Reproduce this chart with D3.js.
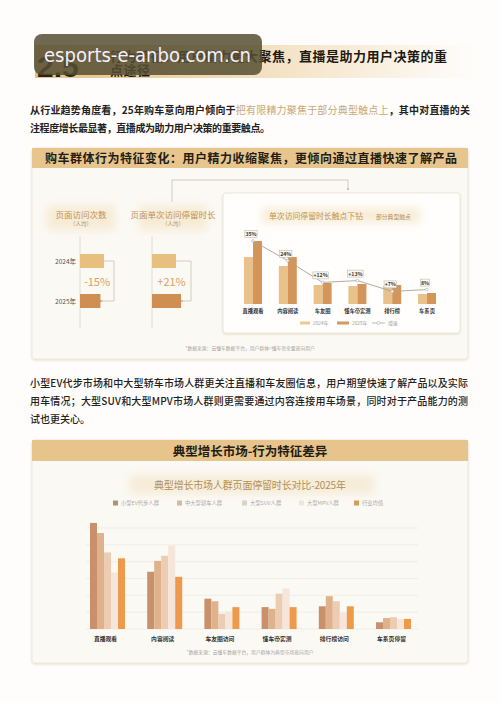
<!DOCTYPE html>
<html><head><meta charset="utf-8">
<script src="https://cdn.jsdelivr.net/npm/d3@7"></script>
<style>
body{margin:0;background:#fefdfb}
svg{display:block;font-family:"Noto Sans CJK SC","Noto Sans",sans-serif}
</style></head>
<body><svg id="c" width="500" height="703"></svg>
<script>
// ---------- data ----------
const yearLabels = ["2024年", "2025年"];
const visitCount = [1.00, 0.85];          // 页面访问次数 (人均), index
const visitDuration = [1.00, 1.21];       // 页面单次访问停留时长 (人均), index
const leftChangeLabels = ["-15%", "+21%"];

const touchCats = ["直播观看", "内容阅读", "车友圈", "懂车帝实测", "排行榜", "车系页"];
const touch2024 = [47, 38, 19, 18, 18, 10];
const touch2025 = [63, 47, 21, 20, 19, 11];
const touchGrowth = [35, 24, 12, 13, 7, 8];
const touchGrowthLabels = ["35%", "24%", "+12%", "+13%", "+7%", "8%"];

const marketCats = ["直播观看", "内容阅读", "车友圈访问", "懂车帝实测", "排行榜访问", "车系页停留"];
const marketSeries = ["小型EV代步人群", "中大型轿车人群", "大型SUV人群", "大型MPV人群", "行业均值"];
const evValues    = [126, 68, 36, 26, 27, 8];
const sedanValues = [114, 81, 33, 24, 39, 13];
const suvValues   = [91, 87, 18, 42, 33, 14];
const mpvValues   = [67, 99, 21, 48, 19, 12];
const avgValues   = [84, 62, 26, 26, 27, 12];
const marketTicks = [0, 20, 40, 60, 80, 100, 120];

// ---------- setup ----------
const svg = d3.select("#c");
const defs = svg.append("defs");
defs.append("filter").attr("id","blur").attr("x","-30%").attr("y","-60%").attr("width","160%").attr("height","220%")
  .append("feGaussianBlur").attr("stdDeviation", 4);
const sh = defs.append("filter").attr("id","shadow").attr("x","-5%").attr("y","-5%").attr("width","110%").attr("height","115%");
sh.append("feDropShadow").attr("dx",0).attr("dy",1).attr("stdDeviation",1.2).attr("flood-color","#b8a888").attr("flood-opacity",0.35);
const g1 = defs.append("linearGradient").attr("id","band").attr("x1","0").attr("x2","1");
g1.append("stop").attr("offset","0").attr("stop-color","#e6c088");
g1.append("stop").attr("offset","0.45").attr("stop-color","#f2dcb8");
g1.append("stop").attr("offset","1").attr("stop-color","#fefdfb");
defs.append("marker").attr("id","arr").attr("viewBox","0 0 6 6").attr("refX",3).attr("refY",3)
  .attr("markerWidth",4).attr("markerHeight",4).attr("orient","auto")
  .append("path").attr("d","M6,0 L0,3 L6,6 z").attr("fill","#bfb3a0");

// ---------- top title ----------
svg.append("rect").attr("x",35).attr("y",45).attr("width",440).attr("height",33).attr("fill","url(#band)");
svg.append("text").attr("x",37).attr("y",77).attr("font-size",30).attr("font-weight",900)
  .attr("fill","#2a2318").attr("font-family","'Liberation Sans',sans-serif").text("2.5");
svg.append("text").attr("x",110).attr("y",61).attr("font-size",13).attr("font-weight",700).attr("fill","#1e1a14")
  .attr("textLength",337).attr("lengthAdjust","spacing").text("行为特征：用户精力更大聚焦，直播是助力用户决策的重");
svg.append("text").attr("x",110).attr("y",75).attr("font-size",13).attr("font-weight",700).attr("fill","#1e1a14")
  .attr("textLength",40).text("点途径");

// paragraph 1
const p1 = svg.append("text").attr("x",30).attr("y",114).attr("font-size",10).attr("font-weight",700).attr("fill","#222")
  .attr("textLength",440).attr("lengthAdjust","spacing");
p1.append("tspan").text("从行业趋势角度看，25年购车意向用户倾向于");
p1.append("tspan").attr("fill","#c7a878").attr("font-weight",400).text("把有限精力聚焦于部分典型触点上");
p1.append("tspan").text("，其中对直播的关");
svg.append("text").attr("x",30).attr("y",132).attr("font-size",10).attr("font-weight",700).attr("fill","#222")
  .attr("textLength",240).text("注程度增长最显著，直播成为助力用户决策的重要触点。");

// ---------- section 1 ----------
svg.append("rect").attr("x",32).attr("y",148).attr("width",436).attr("height",211).attr("rx",3)
  .attr("fill","#fbf9f4").attr("stroke","#efe9de").attr("filter","url(#shadow)");
svg.append("rect").attr("x",32).attr("y",148).attr("width",436).attr("height",20).attr("fill","#e8c58d");
svg.append("text").attr("x",45).attr("y",162.5).attr("font-size",12).attr("font-weight",700).attr("fill","#231d14")
  .attr("textLength",412).attr("lengthAdjust","spacing").text("购车群体行为特征变化：用户精力收缩聚焦，更倾向通过直播快速了解产品");

// connector
svg.append("path").attr("d","M172,202 V180 H348 V188").attr("fill","none").attr("stroke","#c9c1b4").attr("stroke-width",0.8);
svg.append("circle").attr("cx",348).attr("cy",189).attr("r",1).attr("fill","#b9ae9c");

// left mini charts
const leftCharts = [
  {title:"页面访问次数", axis:80, vals:visitCount, label:leftChangeLabels[0], years:true},
  {title:"页面单次访问停留时长", axis:152, vals:visitDuration, label:leftChangeLabels[1], years:false}
];
const wScale = d3.scaleLinear().domain([0,1]).range([0,24]);
const yYear = d3.scalePoint().domain(yearLabels).range([261,301]);
const leftColors = ["#e9bf80","#cf8e52"];
leftCharts.forEach(c => {
  const cx = c.axis + (c.years ? 1 : 21);
  svg.append("rect").attr("x",cx-34).attr("y",206).attr("width",68).attr("height",24).attr("fill","#f6ead2").attr("filter","url(#blur)").attr("opacity",0.9);
  svg.append("text").attr("x",cx).attr("y",218).attr("text-anchor","middle").attr("font-size",8.5).attr("fill","#c0915a").text(c.title);
  svg.append("text").attr("x",cx).attr("y",226).attr("text-anchor","middle").attr("font-size",5.5).attr("fill","#c0915a").text("（人均）");
  svg.append("line").attr("x1",c.axis).attr("x2",c.axis).attr("y1",236).attr("y2",328).attr("stroke","#e2dcd2").attr("stroke-width",1);
  const widths = c.vals.map(v => wScale(v));
  const bx = c.axis + d3.max(widths) + 10;
  svg.append("path").attr("d",`M${c.axis+widths[0]},${yYear(yearLabels[0])} H${bx} V${yYear(yearLabels[1])} H${c.axis+widths[1]+1}`)
    .attr("fill","none").attr("stroke","#cdc2b0").attr("stroke-width",0.8).attr("marker-end","url(#arr)");
  yearLabels.forEach((y,i) => {
    svg.append("rect").attr("x",c.axis).attr("y",yYear(y)-7).attr("width",widths[i]).attr("height",14).attr("fill",leftColors[i]);
    if (c.years) svg.append("text").attr("x",c.axis-4).attr("y",yYear(y)+2.5).attr("text-anchor","end")
      .attr("font-size",6.5).attr("fill","#555").text(y);
  });
  const mx = (c.axis + bx)/2;
  svg.append("rect").attr("x",mx-14).attr("y",275).attr("width",28).attr("height",13).attr("fill","#fbf9f4");
  svg.append("text").attr("x",mx).attr("y",285.5).attr("text-anchor","middle").attr("font-size",11).attr("fill","#d7a263").text(c.label);
});

// right chart
svg.append("rect").attr("x",223).attr("y",193).attr("width",237).attr("height",140).attr("rx",3)
  .attr("fill","#fffefc").attr("stroke","#ede7dc").attr("filter","url(#shadow)");
svg.append("rect").attr("x",262).attr("y",208).attr("width",158).attr("height",15).attr("fill","#f7ecd7").attr("filter","url(#blur)");
svg.append("text").attr("x",269).attr("y",219).attr("font-size",7.8).attr("fill","#b99456").attr("textLength",94).text("单次访问停留时长触点下钻");
svg.append("text").attr("x",376).attr("y",219).attr("font-size",5.8).attr("fill","#b99456").text("部分典型触点");

const xT = d3.scaleBand().domain(touchCats).range([244,436]).paddingInner(0.483).paddingOuter(0);
const xTs = d3.scaleBand().domain(["2024","2025"]).range([0, xT.bandwidth()]);
const yT = d3.scaleLinear().domain([0,70]).range([304,234]);
const yG = d3.scaleLinear().domain([0,40]).range([304,232]);
const touchColors = {"2024":"#e8c28a","2025":"#d3955a"};
touchCats.forEach((c,i) => {
  [["2024",touch2024[i]],["2025",touch2025[i]]].forEach(([k,v]) => {
    svg.append("rect").attr("x",xT(c)+xTs(k)).attr("y",yT(v)).attr("width",xTs.bandwidth()).attr("height",yT(0)-yT(v)).attr("fill",touchColors[k]);
  });
  svg.append("text").attr("x",xT(c)+xT.bandwidth()/2).attr("y",312.5).attr("text-anchor","middle")
    .attr("font-size",5.3).attr("font-weight",700).attr("fill","#333").text(c);
});
const gx = c => xT(c) + xT.bandwidth()/2;
svg.append("path").datum(touchCats.map((c,i)=>[gx(c), yG(touchGrowth[i])]))
  .attr("d", d3.line()).attr("fill","none").attr("stroke","#a9a39b").attr("stroke-width",0.9);
touchCats.forEach((c,i) => {
  svg.append("circle").attr("cx",gx(c)).attr("cy",yG(touchGrowth[i])).attr("r",1.3).attr("fill","#fff").attr("stroke","#aaa").attr("stroke-width",0.6);
  const lbl = touchGrowthLabels[i];
  const w = lbl.length*3.1 + 3;
  const bxp = gx(c) - 2, byp = yG(touchGrowth[i]) - 7;
  svg.append("rect").attr("x",bxp-w/2).attr("y",byp-3.5).attr("width",w).attr("height",7)
    .attr("fill","#fbf8f2").attr("stroke","#b5ada0").attr("stroke-width",0.5);
  svg.append("text").attr("x",bxp).attr("y",byp+2).attr("text-anchor","middle").attr("font-size",5.2).attr("font-weight",700).attr("fill","#3a3530").text(lbl);
});
// legend right chart
const lgY = 323;
svg.append("rect").attr("x",300).attr("y",lgY-1.5).attr("width",10).attr("height",3).attr("fill","#e6cd8c");
svg.append("text").attr("x",313).attr("y",lgY+1.8).attr("font-size",4.8).attr("fill","#999").text("2024年");
svg.append("rect").attr("x",337).attr("y",lgY-1.5).attr("width",12).attr("height",3).attr("fill","#d29a63");
svg.append("text").attr("x",352).attr("y",lgY+1.8).attr("font-size",4.8).attr("fill","#999").text("2025年");
svg.append("line").attr("x1",372).attr("x2",385).attr("y1",lgY).attr("y2",lgY).attr("stroke","#aaa").attr("stroke-width",0.8);
svg.append("circle").attr("cx",378.5).attr("cy",lgY).attr("r",1.5).attr("fill","#fff").attr("stroke","#aaa").attr("stroke-width",0.6);
svg.append("text").attr("x",388).attr("y",lgY+1.8).attr("font-size",4.8).attr("fill","#999").text("增速");

svg.append("text").attr("x",250).attr("y",350).attr("text-anchor","middle").attr("font-size",4.8).attr("fill","#a8a49c")
  .text("*数据来源：云懂车数据平台，用户群体=懂车帝全量意向用户");

// paragraph 2
const p2 = ["小型EV代步市场和中大型轿车市场人群更关注直播和车友圈信息，用户期望快速了解产品以及实际",
            "用车情况；大型SUV和大型MPV市场人群则更需要通过内容连接用车场景，同时对于产品能力的测",
            "试也更关心。"];
p2.forEach((t,i) => {
  const el = svg.append("text").attr("x",30).attr("y",387 + i*18).attr("font-size",10).attr("font-weight",500).attr("fill","#222").text(t);
  if (i < 2) el.attr("textLength",438).attr("lengthAdjust","spacing");
});

// ---------- section 2 ----------
svg.append("rect").attr("x",32).attr("y",440).attr("width",436).attr("height",223).attr("rx",3)
  .attr("fill","#fbf9f4").attr("stroke","#efe9de").attr("filter","url(#shadow)");
svg.append("rect").attr("x",32).attr("y",440).attr("width",436).attr("height",21).attr("fill","#e7c48b");
svg.append("text").attr("x",250).attr("y",455.5).attr("text-anchor","middle").attr("font-size",12.5).attr("font-weight",700)
  .attr("fill","#231d14").text("典型增长市场-行为特征差异");
svg.append("rect").attr("x",130).attr("y",475).attr("width",244).attr("height",19).attr("fill","#f6ecd8").attr("filter","url(#blur)");
svg.append("text").attr("x",250).attr("y",488.5).attr("text-anchor","middle").attr("font-size",10).attr("fill","#b39058")
  .attr("textLength",192).text("典型增长市场人群页面停留时长对比-2025年");

const marketColors = ["#c8916b","#dfb28c","#ecccb2","#f5e5da","#ee9a4d"];
const legendSw = ["#b0946f","#cdbda0","#d9d3c8","#ebe6e0","#cf9f55"];
const legendX = [113,177,242,299,354];
marketSeries.forEach((s,i) => {
  svg.append("rect").attr("x",legendX[i]).attr("y",500.5).attr("width",5).attr("height",5).attr("fill",legendSw[i]);
  svg.append("text").attr("x",legendX[i]+8).attr("y",505).attr("font-size",5.3).attr("fill","#aaa").text(s);
});

const xM = d3.scaleBand().domain(marketCats).range([90,411]).paddingInner(0.388).paddingOuter(0);
const xMs = d3.scaleBand().domain(marketSeries).range([0, xM.bandwidth()]);
const yM = d3.scaleLinear().domain([0,120]).range([629,528]);
marketTicks.forEach(t => {
  svg.append("line").attr("x1",86).attr("x2",418).attr("y1",yM(t)).attr("y2",yM(t)).attr("stroke","#eeebe5").attr("stroke-width",0.8);
});
const marketData = [evValues, sedanValues, suvValues, mpvValues, avgValues];
marketCats.forEach((c,ci) => {
  marketSeries.forEach((s,si) => {
    const v = marketData[si][ci];
    svg.append("rect").attr("x",xM(c)+xMs(s)).attr("y",yM(v)).attr("width",xMs.bandwidth()).attr("height",yM(0)-yM(v)).attr("fill",marketColors[si]);
  });
  svg.append("text").attr("x",xM(c)+xM.bandwidth()/2-2).attr("y",640.5).attr("text-anchor","middle")
    .attr("font-size",5.8).attr("font-weight",700).attr("fill","#333").text(c);
});
svg.append("text").attr("x",250).attr("y",654).attr("text-anchor","middle").attr("font-size",4.8).attr("fill","#a8a49c")
  .text("*数据来源：云懂车数据平台，用户群体为典型市场意向用户");

// ---------- watermark overlay ----------
svg.append("rect").attr("x",34).attr("y",34).attr("width",228).attr("height",41).attr("rx",8)
  .attr("fill","#564f33").attr("opacity",0.85);
svg.append("text").attr("x",44).attr("y",62).attr("font-size",19).attr("fill","#f3efff")
  .attr("font-family","'DejaVu Sans',sans-serif").attr("textLength",207).attr("lengthAdjust","spacingAndGlyphs")
  .text("esports-e-anbo.com.cn");
</script></body></html>
